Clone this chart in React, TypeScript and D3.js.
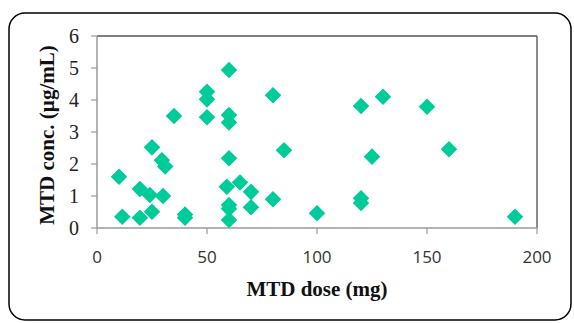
import React from 'react';
import * as d3 from 'd3';

// MTD dose (mg) vs MTD concentration (µg/mL)
const doses = [10, 11.5, 19.5, 19.5, 24, 25, 25, 29.5, 31, 30, 35, 40, 40, 50, 50, 50,
  60, 60, 60, 60, 59, 65, 70, 60, 60, 60, 70, 80, 80, 85, 100, 120, 120, 120, 125, 130, 150, 160, 190];
const concs = [1.6, 0.35, 1.22, 0.32, 1.03, 2.52, 0.51, 2.12, 1.92, 1.0, 3.5, 0.42, 0.32, 4.26, 4.02, 3.46,
  4.94, 3.53, 3.3, 2.18, 1.29, 1.42, 1.13, 0.72, 0.6, 0.25, 0.65, 4.15, 0.9, 2.43, 0.46, 3.81, 0.93, 0.78, 2.23, 4.1, 3.79, 2.46, 0.35];
const xTicks = [0, 50, 100, 150, 200];
const yTicks = [0, 1, 2, 3, 4, 5, 6];

const W = 574;
const H = 323;
const left = 97, right = 537, top = 36, bottom = 228;

export default function App() {
  const x = d3.scaleLinear().domain([0, 200]).range([left, right]);
  const y = d3.scaleLinear().domain([0, 6]).range([bottom, top]);
  const diamond = d3.symbol().type(d3.symbolDiamond2).size(175)();

  return (
    <svg width={W} height={H} style={{ position: 'absolute', left: 0, top: 0 }}>
      <rect x={9} y={13} width={562} height={307} rx={16} fill="white" stroke="#000" strokeWidth={1.5} />
      {/* frame */}
      <line x1={left} x2={right} y1={top} y2={top} stroke="#000" strokeWidth={1.2} />
      <line x1={right} x2={right} y1={top} y2={bottom} stroke="#666" strokeWidth={1.5} />
      <line x1={left} x2={left} y1={top} y2={bottom} stroke="#999" strokeWidth={1.5} />
      <line x1={left} x2={right} y1={bottom} y2={bottom} stroke="#999" strokeWidth={1.5} />
      {yTicks.map(t => (
        <g key={'y' + t}>
          <line x1={left - 6} x2={left} y1={y(t)} y2={y(t)} stroke="#999" strokeWidth={1.2} />
          <text x={left - 18} y={y(t)} dy="0.35em" textAnchor="end"
            fontFamily="Liberation Serif, serif" fontSize={20} fill="#222">{t}</text>
        </g>
      ))}
      {xTicks.map(t => (
        <g key={'x' + t}>
          <line x1={x(t)} x2={x(t)} y1={bottom} y2={bottom + 6} stroke="#999" strokeWidth={1.2} />
          <text x={x(t)} y={257} dy="0.35em" textAnchor="middle"
            fontFamily="Open Sans, sans-serif" fontSize={17} fill="#333">{t}</text>
        </g>
      ))}
      {doses.map((d, i) => (
        <path key={i} d={diamond} transform={`translate(${x(d)},${y(concs[i])})`} fill="#00CC99" />
      ))}
      <text x={317} y={289} dy="0.35em" textAnchor="middle" fontFamily="Liberation Serif, serif"
        fontWeight="bold" fontSize={21} fill="#111">MTD dose (mg)</text>
      <text transform={`translate(47,135) rotate(-90)`} dy="0.35em" textAnchor="middle"
        fontFamily="Liberation Serif, serif" fontWeight="bold" fontSize={21} fill="#111">MTD conc. (µg/mL)</text>
    </svg>
  );
}
